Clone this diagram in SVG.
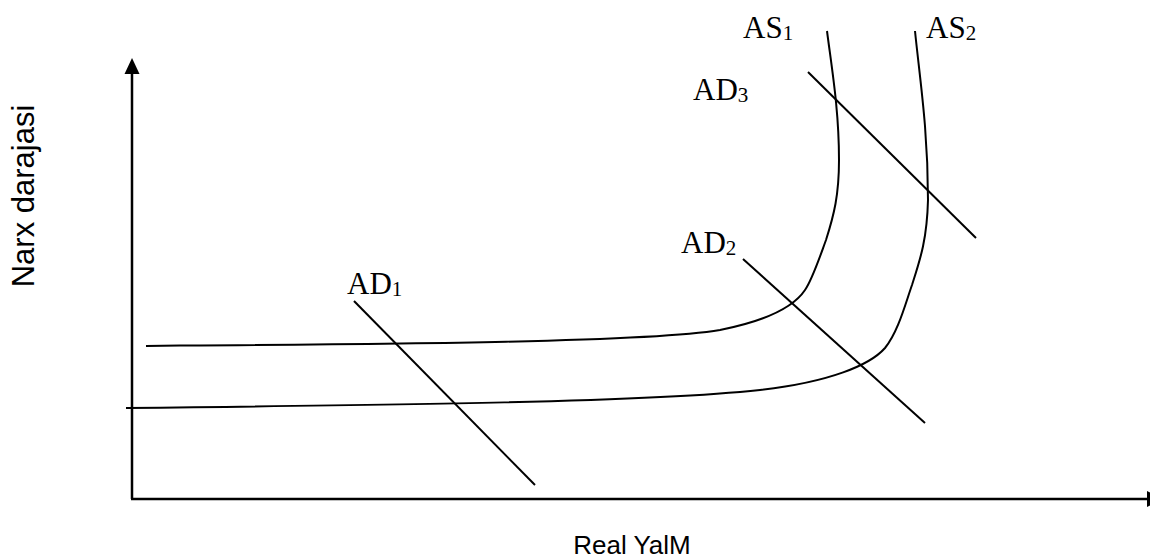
<svg xmlns="http://www.w3.org/2000/svg" width="1150" height="558" viewBox="0 0 1150 558">
<style>
.ax{stroke:#000;stroke-width:2.5;fill:none}
.cv{stroke:#000;stroke-width:2;fill:none}
.lbl{font-family:"Liberation Serif","Times New Roman",serif;font-size:31px;fill:#000}
.sub{font-size:21px}
.axl{font-family:"Liberation Sans",Arial,sans-serif;font-size:26px;fill:#000}
</style>
<rect width="1150" height="558" fill="#fff"/>
<g id="axes">
<line class="ax" x1="132" y1="499" x2="132" y2="72"/>
<polygon points="132,58 124.5,74 139.5,74" fill="#000"/>
<line class="ax" x1="131" y1="499" x2="1148" y2="499"/>
<polygon points="1147,491 1147,507 1163,499" fill="#000"/>
</g>
<g id="connectors">
<path id="AS1" class="cv" d="M146,346 L180,345.5 C400,344 650,342 720,330 C770,320 795,305 805,290 C812,280 818,262 826,240 C834,215 839,195 839,160 C839,110 832,70 827,31"/>
<path id="AS2" class="cv" d="M126,408 C400,405 650,402 760,390 C830,382 870,365 885,348 C898,332 905,305 912,285 C920,260 927,240 928,200 C928,130 920,80 915,31"/>
<line id="AD1" class="cv" x1="354" y1="301" x2="535" y2="485"/>
<line id="AD2" class="cv" x1="743" y1="259" x2="925" y2="423"/>
<line id="AD3" class="cv" x1="808" y1="72" x2="976" y2="238"/>
</g>
<g id="label-AS1"><text class="lbl" x="743" y="38">AS<tspan class="sub" dy="2">1</tspan></text></g>
<g id="label-AS2"><text class="lbl" x="926" y="38">AS<tspan class="sub" dy="2">2</tspan></text></g>
<g id="label-AD3"><text class="lbl" x="693" y="100">AD<tspan class="sub" dy="2">3</tspan></text></g>
<g id="label-AD2"><text class="lbl" x="681" y="253">AD<tspan class="sub" dy="2">2</tspan></text></g>
<g id="label-AD1"><text class="lbl" x="347" y="294">AD<tspan class="sub" dy="2">1</tspan></text></g>
<g id="label-y"><text class="axl" style="font-size:31px" text-anchor="middle" transform="translate(34,196) rotate(-90)">Narx darajasi</text></g>
<g id="label-x"><text class="axl" text-anchor="middle" x="632" y="554">Real YalM</text></g>
</svg>
